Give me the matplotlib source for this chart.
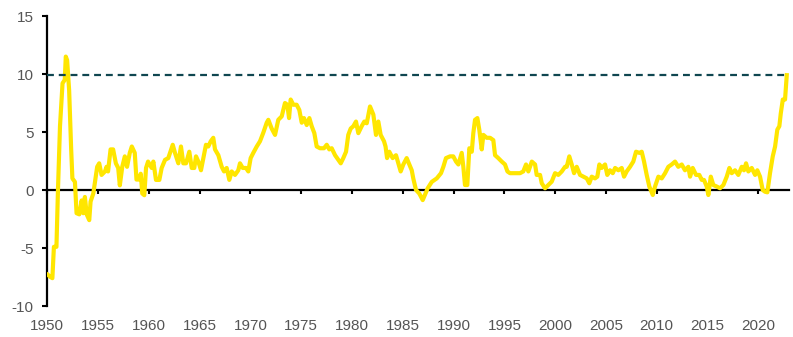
import matplotlib
matplotlib.use("Agg")
import matplotlib.pyplot as plt

plt.rcParams['font.family'] = ['Liberation Sans', 'DejaVu Sans']

years = [
    1950.05, 1950.3, 1950.5, 1950.65, 1950.9, 1951.05, 1951.25, 1951.5, 1951.72, 1951.82,
    1951.95, 1952.15, 1952.35, 1952.47, 1952.72, 1952.88, 1953.15, 1953.38, 1953.54, 1953.7,
    1953.88, 1954.13, 1954.26, 1954.53, 1954.68, 1954.91, 1955.11, 1955.34, 1955.68, 1955.83,
    1955.98, 1956.23, 1956.48, 1956.75, 1956.98, 1957.14, 1957.38, 1957.63, 1957.85, 1958.12,
    1958.32, 1958.61, 1958.78, 1959.03, 1959.2, 1959.35, 1959.55, 1959.72, 1959.92,
    1960.28, 1960.44, 1960.7, 1961.03, 1961.26, 1961.59, 1961.91, 1962.35, 1962.57, 1962.9,
    1963.16, 1963.39, 1963.66, 1963.98, 1964.22, 1964.47, 1964.64, 1964.87, 1965.13, 1965.36,
    1965.62, 1965.85, 1966.09, 1966.34, 1966.51, 1966.84, 1967.17, 1967.4, 1967.66, 1967.92,
    1968.15, 1968.48, 1968.8, 1968.97, 1969.24, 1969.56, 1969.79, 1970.02, 1970.28, 1970.62,
    1970.94, 1971.27, 1971.6, 1971.76, 1972.09, 1972.42, 1972.74, 1973.08, 1973.4, 1973.63,
    1973.8, 1973.96, 1974.22, 1974.55, 1974.81, 1975.05, 1975.27, 1975.54, 1975.8, 1976.03,
    1976.29, 1976.52, 1976.85, 1977.24, 1977.51, 1977.76, 1978.0, 1978.33, 1978.65, 1978.89,
    1979.14, 1979.41, 1979.63, 1979.87, 1980.13, 1980.39, 1980.62, 1980.95, 1981.21, 1981.45,
    1981.77, 1982.1, 1982.36, 1982.59, 1982.82, 1983.15, 1983.3, 1983.45, 1983.67, 1984.0,
    1984.33, 1984.56, 1984.79, 1985.05, 1985.38, 1985.64, 1985.88, 1986.03, 1986.3, 1986.62,
    1986.96, 1987.19, 1987.45, 1987.85, 1988.34, 1988.76, 1988.99, 1989.25, 1989.65, 1989.97,
    1990.24, 1990.47, 1990.8, 1990.96, 1991.12, 1991.35, 1991.55, 1991.79, 1991.94, 1992.11,
    1992.34, 1992.53, 1992.77, 1992.93, 1993.26, 1993.59, 1993.91, 1994.08, 1994.4, 1994.74,
    1995.06, 1995.3, 1995.55, 1996.05, 1996.54, 1996.86, 1997.13, 1997.36, 1997.7, 1998.02,
    1998.18, 1998.51, 1998.68, 1999.0, 1999.33, 1999.66, 1999.99, 2000.31, 2000.65, 2000.97,
    2001.14, 2001.39, 2001.63, 2001.86, 2002.12, 2002.45, 2002.77, 2003.11, 2003.36, 2003.6,
    2003.92, 2004.15, 2004.35, 2004.58, 2004.91, 2005.13, 2005.4, 2005.67, 2005.9, 2006.22,
    2006.55, 2006.78, 2007.04, 2007.37, 2007.69, 2007.96, 2008.29, 2008.52, 2008.75, 2009.01,
    2009.27, 2009.61, 2009.83, 2010.16, 2010.49, 2010.82, 2011.14, 2011.47, 2011.8, 2012.12,
    2012.46, 2012.78, 2013.11, 2013.28, 2013.54, 2013.87, 2014.19, 2014.43, 2014.65, 2014.92,
    2015.08, 2015.32, 2015.57, 2015.9, 2016.23, 2016.56, 2016.89, 2017.15, 2017.38, 2017.71,
    2018.03, 2018.37, 2018.59, 2018.79, 2019.02, 2019.35, 2019.68, 2019.9, 2020.17, 2020.43,
    2020.66, 2020.89, 2021.15, 2021.42, 2021.65, 2021.87, 2022.07, 2022.21, 2022.41, 2022.63,
    2022.8,
]

values = [
    -7.3, -7.5, -7.6, -4.9, -4.9, 0.0, 5.5, 9.2, 9.5, 11.5,
    11.2, 8.6, 3.5, 1.0, 0.7, -2.0, -2.1, -0.9, -2.0, -0.6,
    -2.1, -2.6, -1.0, -0.3, 0.6, 2.0, 2.3, 1.3, 1.6, 2.0,
    1.6, 3.5, 3.5, 2.3, 1.9, 0.4, 2.0, 2.9, 2.0, 3.2,
    3.75, 3.2, 0.9, 0.9, 1.4, -0.3, -0.45, 1.9, 2.45,
    1.9, 2.45, 0.87, 0.87, 1.9, 2.6, 2.75, 3.9, 3.2, 2.3,
    3.75, 2.3, 2.3, 3.3, 1.9, 1.9, 2.9, 2.45, 1.7, 2.75,
    3.9, 3.75, 4.2, 4.5, 3.5, 3.0, 2.0, 1.6, 1.9, 0.87,
    1.6, 1.3, 1.7, 2.3, 1.9, 1.9, 1.6, 2.75, 3.2, 3.75,
    4.2, 4.95, 5.8, 6.05, 5.3, 4.75, 6.05, 6.35, 7.5, 7.35,
    6.2, 7.8, 7.35, 7.35, 6.9, 5.8, 6.2, 5.6, 6.2, 5.5,
    4.9, 3.75, 3.6, 3.6, 3.9, 3.5, 3.6, 3.0, 2.6, 2.3,
    2.75, 3.3, 4.75, 5.3, 5.5, 5.9, 4.9, 5.5, 5.9, 5.75,
    7.2, 6.5, 4.75, 5.9, 4.75, 4.2, 3.75, 2.75, 3.3, 2.75,
    3.0, 2.3, 1.6, 2.2, 2.75, 2.2, 1.7, 1.0, 0.0, -0.3,
    -0.87, -0.4, 0.15, 0.7, 1.0, 1.45, 2.0, 2.75, 2.9, 2.9,
    2.45, 2.2, 3.2, 2.0, 0.43, 0.43, 3.6, 3.3, 4.9, 6.05,
    6.2, 5.2, 3.5, 4.75, 4.5, 4.5, 4.3, 3.0, 2.75, 2.45,
    2.2, 1.6, 1.45, 1.45, 1.45, 1.6, 2.2, 1.6, 2.45, 2.2,
    1.3, 1.3, 0.58, 0.15, 0.43, 0.72, 1.45, 1.3, 1.6, 2.0,
    2.0, 2.9, 2.2, 1.45, 2.0, 1.3, 1.15, 1.0, 0.58, 1.15,
    1.0, 1.15, 2.2, 1.9, 2.2, 1.3, 1.7, 1.45, 1.9, 1.7,
    1.9, 1.15, 1.6, 2.0, 2.45, 3.3, 3.2, 3.3, 2.45, 1.3,
    0.3, -0.43, 0.3, 1.15, 1.0, 1.45, 2.0, 2.2, 2.45, 2.0,
    2.2, 1.7, 2.0, 1.15, 1.9, 1.3, 1.3, 0.87, 0.87, 0.3,
    -0.43, 1.15, 0.43, 0.3, 0.15, 0.43, 1.15, 1.9, 1.45, 1.7,
    1.3, 2.0, 1.7, 2.3, 1.6, 1.9, 1.3, 1.7, 1.15, 0.0,
    -0.15, -0.2, 1.45, 2.9, 3.75, 5.2, 5.5, 6.6, 7.8, 7.8,
    9.9,
]

reference_level = 9.9
x_tick_years = list(range(1950, 2021, 5))
y_ticks = [-10, -5, 0, 5, 10, 15]

fig = plt.figure(figsize=(7.93, 3.37), dpi=100)
ax = fig.add_axes([47.3 / 793, 1 - 306 / 337, (789 - 47.3) / 793, (306 - 16) / 337])

ax.plot(years, values, color='#FFE600', lw=3.0, solid_joinstyle='round', zorder=3)
ax.hlines(reference_level, 1950, years[-1], colors='#0F4650', linestyles=(0, (3.1, 2.2)),
          lw=1.6, zorder=4)

ax.set_xlim(1950, 2023.02)
ax.set_ylim(-10, 15)

for s in ['top', 'right']:
    ax.spines[s].set_visible(False)
ax.spines['left'].set_linewidth(1.6)
ax.spines['left'].set_color('black')
ax.spines['bottom'].set_position(('data', 0))
ax.spines['bottom'].set_linewidth(1.6)
ax.spines['bottom'].set_color('black')

ax.set_yticks(y_ticks)
ax.set_yticklabels([str(v) for v in y_ticks])
ax.tick_params(axis='y', direction='out', length=3.5, width=1.5, color='black',
               labelsize=11, labelcolor='#555555', pad=6.5)

ax.set_xticks(x_tick_years)
ax.tick_params(axis='x', direction='out', length=3.2, width=1.5, color='black',
               labelbottom=False)

sec = ax.secondary_xaxis(0)
sec.set_xticks(x_tick_years)
sec.set_xticklabels([str(y) for y in x_tick_years])
sec.tick_params(axis='x', length=0, labelsize=11, labelcolor='#555555', pad=9)
sec.spines['bottom'].set_visible(False)

fig.savefig('out.png', dpi=100)
